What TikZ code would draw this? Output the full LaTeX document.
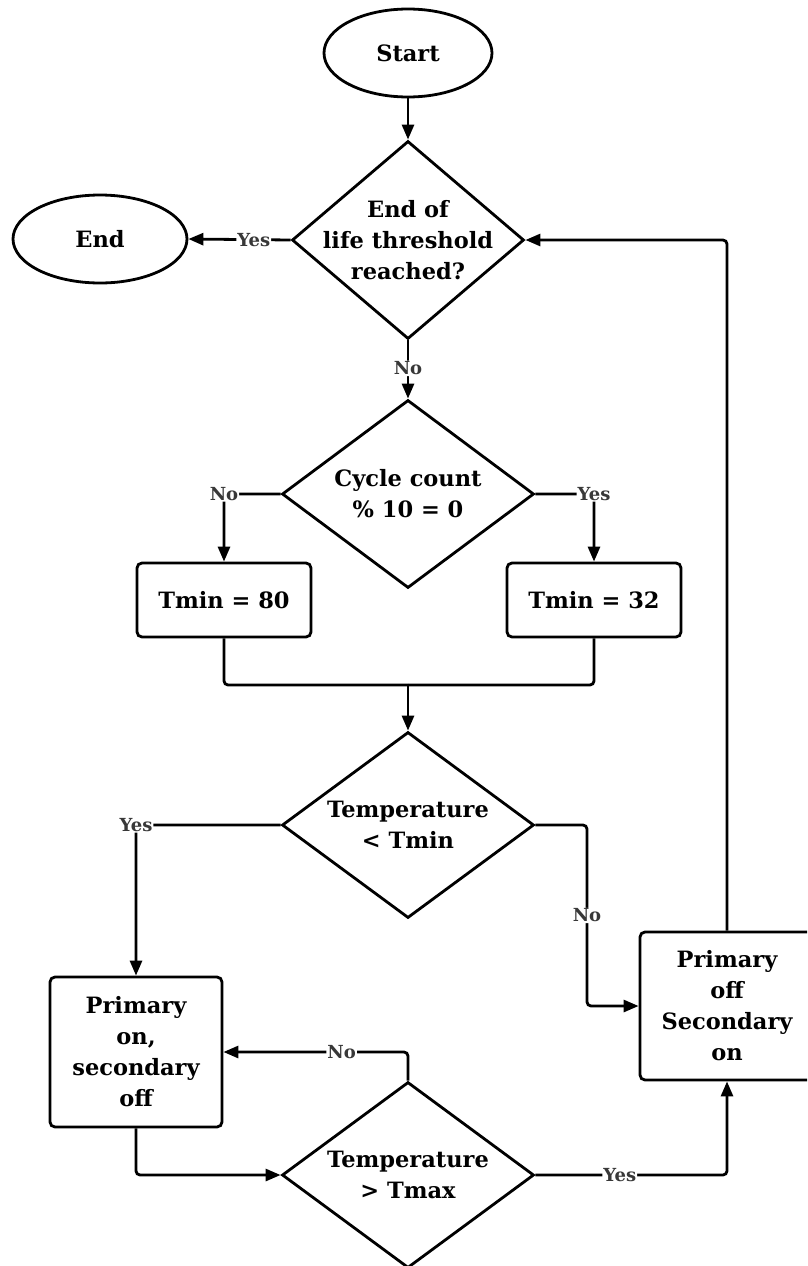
\documentclass[tikz,border=0pt]{standalone}
\usepackage{fontspec}
\setmainfont{DejaVu Serif}
\usetikzlibrary{shapes.geometric,arrows.meta}
\begin{document}
\begin{tikzpicture}[x=1pt,y=-1pt,
  conn/.style={line width=2.8pt, rounded corners=4pt, -{Triangle[length=15pt,width=12pt]}},
  plain/.style={line width=2.8pt, rounded corners=4pt},
  term/.style={ellipse, draw, line width=2.8pt, inner sep=0pt},
  dia/.style={diamond, draw, line width=2.8pt, inner sep=0pt},
  box/.style={rectangle, draw, rounded corners=5pt, line width=2.8pt, inner sep=0pt},
  txt/.style={font=\bfseries\fontsize{22.5}{31}\selectfont, align=center},
  lbl/.style={font=\bfseries\fontsize{18}{20}\selectfont, text=black!78, fill=white, inner sep=1pt},
]
\useasboundingbox (0,0) rectangle (807,1266);
\fill[white] (0,0) rectangle (807,1266);
\clip (0,0) rectangle (807,1266);

\node[term, txt, minimum width=168pt, minimum height=88pt] (start) at (408,53) {Start};
\node[dia, minimum width=232pt, minimum height=198pt] (d1) at (408,240) {};
\node[txt] (d1t) at (d1.center) {End of\\life threshold\\reached?};
\node[term, txt, minimum width=174pt, minimum height=88pt] (end) at (100,239) {End};

\node[dia, minimum width=252pt, minimum height=188pt] (d2) at (408,494) {};
\node[txt] (d2t) at (d2.center) {Cycle count\\\% 10 = 0};

\node[box, txt, minimum width=174pt, minimum height=74pt] (b80) at (224,600) {Tmin = 80};
\node[box, txt, minimum width=174pt, minimum height=74pt] (b32) at (594,600) {Tmin = 32};

\node[dia, minimum width=252pt, minimum height=186pt] (d3) at (408,825) {};
\node[txt] (d3t) at (d3.center) {Temperature\\< Tmin};

\node[box, txt, minimum width=172pt, minimum height=150pt] (p1) at (136,1052) {Primary\\on,\\secondary\\off};
\node[box, txt, minimum width=174pt, minimum height=148pt] (p2) at (727,1006) {Primary\\off\\Secondary\\on};

\node[dia, minimum width=252pt, minimum height=186pt] (d4) at (408,1175) {};
\node[txt] (d4t) at (d4.center) {Temperature\\> Tmax};

\coordinate (m) at (408,685);
\coordinate (c3) at (587,825);

\draw[conn] (start) -- (d1);
\draw[conn] (d1.west) -- node[lbl, pos=0.36]{Yes} (end.east);
\draw[conn] (d1.south) -- node[lbl, pos=0.48]{No} (d2.north);
\draw[conn] (d2.west) -| node[lbl, pos=0.5]{No} (b80.north);
\draw[conn] (d2.east) -| node[lbl, pos=0.5]{Yes} (b32.north);
\draw[plain] (b80.south) |- (m);
\draw[plain] (b32.south) |- (m);
\draw[conn] (m) -- (d3.north);
\draw[conn] (d3.west) -| node[lbl, pos=0.5]{Yes} (p1.north);
\draw[conn] (d3.east) -- (c3) |- node[lbl, pos=0.25]{No} (p2.west);
\draw[conn] (p1.south) |- (d4.west);
\draw[conn] (d4.north) |- node[lbl, pos=0.68]{No} (p1.east);
\draw[conn] (d4.east) -| node[lbl, pos=0.22]{Yes} (p2.south);
\draw[conn] (p2.north) |- (d1.east);
\end{tikzpicture}
\end{document}
